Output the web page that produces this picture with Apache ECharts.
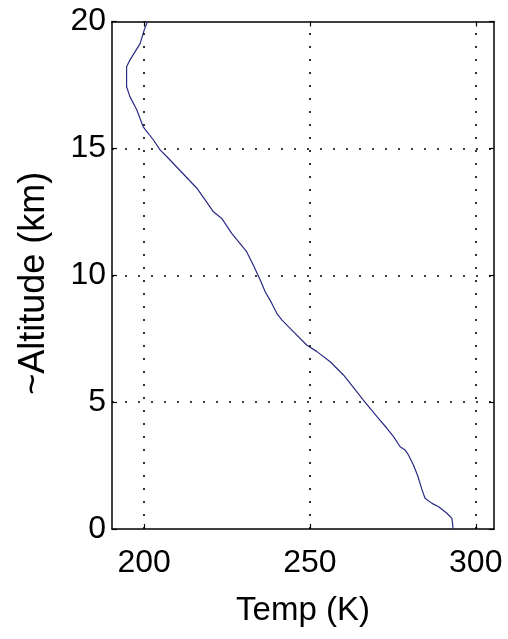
<!DOCTYPE html>
<html>
<head>
<meta charset="utf-8">
<script src="https://cdn.jsdelivr.net/npm/echarts@6/dist/echarts.min.js"></script>
<style>html,body{margin:0;padding:0;background:#fff;}#c{width:508px;height:639px;}</style>
</head>
<body>
<div id="c"></div>
<script>
// Temperature profile (K) vs approximate altitude (km)
const temp = [201.0, 200.0, 198.8, 195.7, 194.7, 194.7, 195.7, 197.8, 199.7, 202.8, 204.8, 207.3, 215.9, 220.9, 223.4, 226.4, 230.9, 232.9, 235.0, 236.5, 238.5, 240.0, 241.5, 245.0, 249.0, 252.1, 256.1, 260.1, 264.1, 266.1, 270.2, 273.2, 275.2, 277.2, 278.7, 279.7, 281.2, 282.5, 283.8, 284.7, 286.8, 288.8, 291.3, 292.8, 293.1, 293.1];
const alt  = [20.0, 19.66, 19.14, 18.48, 18.22, 17.43, 17.04, 16.51, 15.85, 15.33, 14.94, 14.61, 13.43, 12.5, 12.24, 11.65, 10.93, 10.4, 9.81, 9.35, 8.89, 8.5, 8.24, 7.78, 7.25, 6.99, 6.59, 6.07, 5.41, 5.08, 4.43, 3.97, 3.64, 3.24, 3.11, 2.92, 2.52, 2.1, 1.54, 1.21, 1.01, 0.88, 0.62, 0.42, 0.09, 0.0];
const xTicks = [200, 250, 300];
const yTicks = [0, 5, 10, 15, 20];
const xTitle = 'Temp (K)';
const yTitle = '~Altitude (km)';

const FONT = 'Liberation Sans, Arial, sans-serif';
const XMIN = 190.3, XMAX = 305.5;
const chart = echarts.init(document.getElementById('c'), null, {renderer: 'canvas'});
const lineData = temp.map((t, i) => [t, alt[i]]);
const dotted = {color: '#000', width: 1.6, type: [2, 11]};
const gridLines = xTicks.map(v => ({xAxis: v})).concat(yTicks.filter(v => v > 0 && v < 20).map(v => ({yAxis: v})));

const tickStyle = {show: true, inside: true, length: 5, lineStyle: {color: '#000', width: 1.2}};
chart.setOption({
  animation: false,
  backgroundColor: '#fff',
  grid: {left: 112, right: 14, top: 21.5, bottom: 110, containLabel: false},
  xAxis: [{
    type: 'value', min: XMIN, max: XMAX, position: 'bottom',
    name: xTitle, nameLocation: 'middle', nameGap: 65,
    nameTextStyle: {fontFamily: FONT, fontSize: 33, color: '#000'},
    axisLine: {show: true, onZero: false, lineStyle: {color: '#000', width: 1.5}},
    axisTick: Object.assign({customValues: xTicks}, tickStyle),
    axisLabel: {customValues: xTicks, margin: 18, fontFamily: FONT, fontSize: 32, color: '#000'},
    splitLine: {show: false}
  }, {
    type: 'value', min: XMIN, max: XMAX, position: 'top',
    axisLine: {show: true, onZero: false, lineStyle: {color: '#000', width: 1.5}},
    axisTick: Object.assign({customValues: xTicks}, tickStyle),
    axisLabel: {show: false},
    splitLine: {show: false}
  }],
  yAxis: [{
    type: 'value', min: 0, max: 20, interval: 5, position: 'left',
    name: yTitle, nameLocation: 'middle', nameGap: 60,
    nameTextStyle: {fontFamily: FONT, fontSize: 36, color: '#000', padding: [0, 16, 0, 0]},
    axisLine: {show: true, onZero: false, lineStyle: {color: '#000', width: 1.5}},
    axisTick: tickStyle,
    axisLabel: {margin: 6, fontFamily: FONT, fontSize: 32, color: '#000'},
    splitLine: {show: false}
  }, {
    type: 'value', min: 0, max: 20, interval: 5, position: 'right',
    axisLine: {show: true, onZero: false, lineStyle: {color: '#000', width: 1.5}},
    axisTick: tickStyle,
    axisLabel: {show: false},
    splitLine: {show: false}
  }],
  series: [{
    type: 'line',
    data: lineData,
    showSymbol: false,
    symbol: 'none',
    lineStyle: {color: '#2a2a84', width: 1.2},
    markLine: {
      silent: true, symbol: 'none', label: {show: false},
      lineStyle: dotted,
      data: gridLines
    }
  }]
});
</script>
</body>
</html>
